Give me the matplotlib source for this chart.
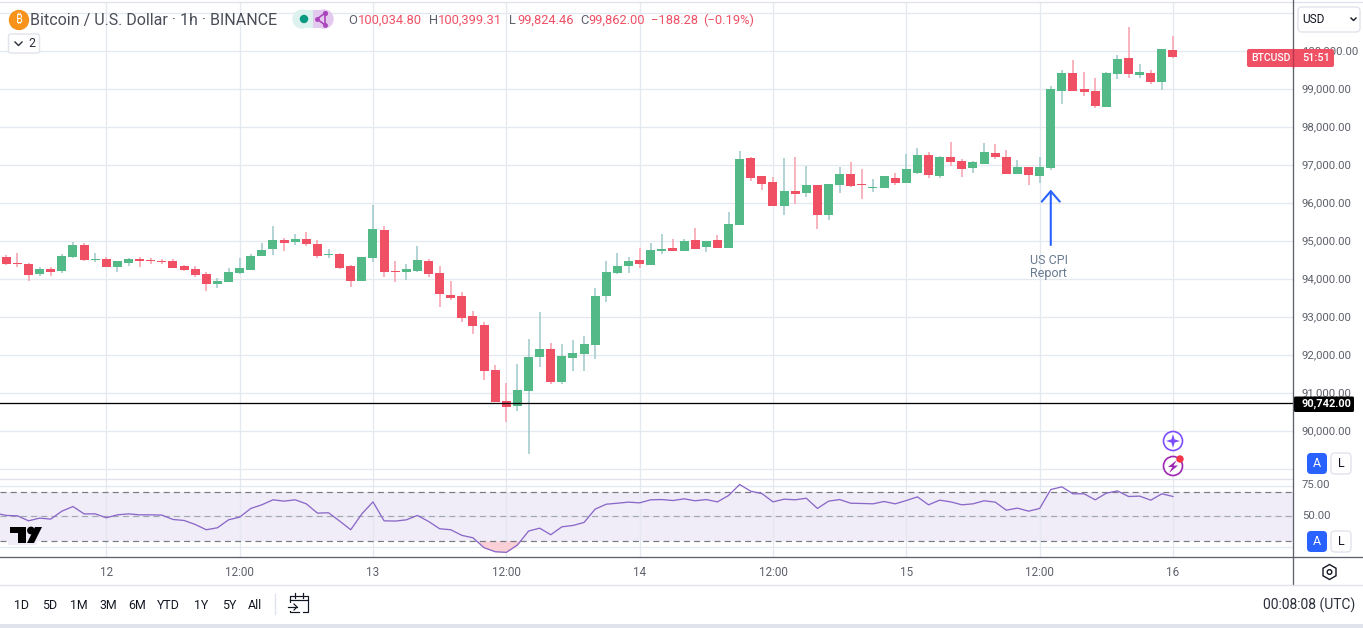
import matplotlib
matplotlib.use("Agg")
import matplotlib.pyplot as plt
import numpy as np
from matplotlib.patches import Circle, FancyBboxPatch, Polygon, Rectangle
from matplotlib.transforms import ScaledTranslation

plt.rcParams["font.family"] = ["Roboto", "Noto Sans", "DejaVu Sans"]

# hourly candles
opens = [94590, 94430, 94400, 94140, 94270, 94220, 94590, 94900, 94510, 94535,
         94320, 94430, 94535, 94510, 94480, 94480, 94350, 94270, 94140, 93880,
         93930, 94170, 94245, 94610, 94800, 95035, 94980, 95060, 94930, 94640,
         94670, 94350, 93960, 94560, 95300, 94220, 94190, 94220, 94480, 94170,
         93590, 93560, 93035, 92800, 91610, 90800, 90665, 91060, 91955, 92165,
         91300, 91930, 92035, 92270, 93560, 94170, 94350, 94510, 94380, 94745,
         94825, 94745, 95035, 94850, 95035, 94825, 95430, 97193, 96720, 96562,
         95930, 96325, 96272, 96483, 95693, 96483, 96772, 96509, 96404, 96404,
         96667, 96535, 96798, 97272, 96719, 97220, 97114, 96930, 97035, 97325,
         97220, 96772, 96956, 96719, 96930, 98956, 99430, 99009, 98956, 98535,
         99404, 99825, 99377, 99430, 99193, 100034.80]
highs = [94640, 94690, 94430, 94320, 94320, 94670, 94980, 94960, 94690, 94590,
         94480, 94560, 94590, 94560, 94535, 94535, 94380, 94350, 94190, 94035,
         94300, 94560, 94670, 94960, 95400, 95090, 95190, 95245, 95035, 94800,
         94690, 94380, 94590, 95950, 95400, 94480, 94400, 94880, 94535, 94350,
         93960, 93665, 93165, 92880, 91745, 91270, 91770, 92430, 93140, 92325,
         92300, 92400, 92510, 93770, 94480, 94690, 94590, 94825, 94955, 95190,
         95060, 95060, 95350, 95010, 95165, 95770, 97377, 97220, 96720, 96693,
         97193, 97220, 96983, 96483, 96509, 96956, 97088, 96904, 96640, 96719,
         96798, 97298, 97456, 97351, 97246, 97614, 97167, 97114, 97588, 97562,
         97404, 97140, 96956, 97220, 99088, 99509, 99772, 99456, 99298, 99456,
         99904, 100640, 99667, 99509, 100062, 100399.31]
lows = [94380, 94320, 93950, 94090, 94090, 94170, 94560, 94480, 94460, 94320,
        94190, 94350, 94320, 94400, 94400, 94300, 94220, 94060, 93690, 93770,
        93930, 94140, 94245, 94610, 94640, 94745, 94900, 94880, 94560, 94560,
        94270, 93800, 93960, 94460, 94060, 93930, 93980, 94190, 94060, 93270,
        93455, 92880, 92560, 91350, 90770, 90245, 90535, 89400, 91690, 91245,
        91245, 91590, 91590, 91900, 93400, 94140, 94170, 94300, 94380, 94665,
        94745, 94745, 94800, 94720, 94825, 94825, 95430, 96588, 96350, 95930,
        95693, 95983, 96167, 95325, 95562, 96272, 96430, 96114, 96298, 96404,
        96483, 96535, 96772, 96667, 96667, 96983, 96693, 96798, 97035, 97167,
        96772, 96772, 96483, 96535, 96877, 98614, 98956, 98825, 98509, 98535,
        99272, 99298, 99298, 99140, 98983, 99824.46]
closes = [94400, 94400, 94110, 94270, 94190, 94610, 94900, 94510, 94535, 94320,
          94480, 94535, 94480, 94480, 94455, 94300, 94245, 94110, 93880, 93960,
          94190, 94300, 94610, 94770, 95035, 94955, 95060, 94930, 94610, 94670,
          94300, 93960, 94590, 95325, 94190, 94190, 94270, 94510, 94140, 93610,
          93510, 92980, 92770, 91590, 90770, 90640, 91090, 91955, 92165, 91300,
          91980, 92060, 92300, 93560, 94190, 94350, 94480, 94400, 94770, 94800,
          94745, 95010, 94800, 95010, 94825, 95455, 97167, 96667, 96510, 95930,
          96325, 96246, 96483, 95693, 96509, 96772, 96456, 96483, 96430, 96719,
          96535, 96904, 97272, 96746, 97220, 97088, 96904, 97088, 97351, 97220,
          96772, 96956, 96746, 96956, 99009, 99430, 98956, 98930, 98562, 99430,
          99798, 99404, 99456, 99193, 100062, 99862.00]

# RSI has one more point, it starts one bar left of the first candle
rsi = [52.6, 50.7, 50.4, 46.3, 48.5, 47.7, 54.2, 58.0, 52.0, 52.0, 48.8, 51.2,
       52.0, 51.2, 51.2, 51.0, 47.4, 46.6, 43.3, 39.0, 40.6, 47.1, 49.3, 56.4,
       59.4, 63.5, 62.4, 63.5, 60.2, 52.6, 52.9, 46.1, 39.0, 52.0, 61.8, 46.3,
       46.1, 47.1, 50.7, 45.8, 39.8, 39.0, 34.4, 32.4, 24.3, 21.0, 20.5, 26.5,
       37.9, 40.3, 34.9, 41.4, 42.5, 45.0, 55.9, 59.9, 60.7, 61.6, 61.0, 63.5,
       63.7, 62.9, 64.3, 62.7, 63.7, 61.8, 67.0, 76.0, 70.5, 68.6, 61.8, 64.0,
       63.5, 64.8, 56.4, 62.4, 63.7, 60.7, 60.5, 60.2, 62.1, 60.2, 62.9, 65.9,
       59.4, 63.2, 61.8, 59.4, 60.2, 62.7, 61.6, 55.0, 56.7, 54.2, 56.4, 71.9,
       74.1, 68.4, 68.4, 63.5, 68.9, 70.8, 66.2, 66.5, 63.2, 68.4, 66.2]

price_ticks = [89000, 90000, 91000, 92000, 93000, 94000, 95000, 96000, 97000,
               98000, 99000, 100000, 101000]
price_labels = ["", "90,000.00", "91,000.00", "92,000.00", "93,000.00", "94,000.00",
                "95,000.00", "96,000.00", "97,000.00", "98,000.00", "99,000.00",
                "100,000.00", ""]
time_ticks = [9, 21, 33, 45, 57, 69, 81, 93, 105]
time_labels = ["12", "12:00", "13", "12:00", "14", "12:00", "15", "12:00", "16"]
range_labels = ["1D", "5D", "1M", "3M", "6M", "YTD", "1Y", "5Y", "All"]
range_x = [14, 42, 70, 99, 128, 157, 194, 222, 248]
support = 90742.00

GREEN, RED = "#53b987", "#ef5064"
WICK_G, WICK_R = "#a3cacb", "#f8a3b0"
GRID = "#e4e9ef"
TXT = "#5d606b"
W, H = 1363, 628
PX = 0.72  # one pixel in points at dpi 100

fig = plt.figure(figsize=(W / 100, H / 100), dpi=100, facecolor="white")


def box(left, top, right, bottom):
    return [left / W, 1 - bottom / H, (right - left) / W, (bottom - top) / H]


ax = fig.add_axes(box(0, 3, 1293, 479))
ax2 = fig.add_axes(box(0, 480, 1293, 557))
ui = fig.add_axes([0, 0, 1, 1], zorder=5)
ui.set_xlim(0, W)
ui.set_ylim(H, 0)
ui.axis("off")
ui.patch.set_alpha(0)

# price pane
idx = np.arange(len(opens))
o, h, l, c = map(np.array, (opens, highs, lows, closes))
up = c >= o
ax.vlines(idx[up], l[up], h[up], color=WICK_G, lw=1.6 * PX, zorder=3)
ax.vlines(idx[~up], l[~up], h[~up], color=WICK_R, lw=1.6 * PX, zorder=3)
ax.bar(idx[up], (c - o)[up], bottom=o[up], width=0.81, color=GREEN, lw=0, zorder=4)
ax.bar(idx[~up], (c - o)[~up], bottom=o[~up], width=0.81, color=RED, lw=0, zorder=4)
ax.axhline(support, color="black", lw=1.3 * PX, zorder=5)
ax.set_xlim(-0.567, 115.8)
ax.set_ylim(88745, 101271)
ax.set_yticks(price_ticks)
ax.set_yticklabels(price_labels)
ax.yaxis.tick_right()
ax.tick_params(axis="y", length=0, pad=6.3, labelsize=8.2, labelcolor=TXT)
ax.tick_params(axis="x", length=0, labelbottom=False)
ax.set_xticks(time_ticks)
ax.grid(True, color=GRID, lw=1.3 * PX, zorder=0)
for s in ax.spines.values():
    s.set_visible(False)

# arrow marking the CPI candle
ax.annotate("", xy=(94, 96360), xytext=(94, 94903),
            arrowprops=dict(arrowstyle="->,head_length=0.75,head_width=0.65", color="#2962ff",
                            lw=1.5, shrinkA=0, shrinkB=0), zorder=6)

# RSI pane
rsi_x = np.arange(len(rsi)) - 1
r = np.array(rsi)
ax2.axhspan(30, 70, color="#f0ecf8", lw=0, zorder=1)
ax2.fill_between(rsi_x, r, 30, where=r < 30, interpolate=True, color="#f9d0d6", lw=0, zorder=2)
ax2.plot(rsi_x, r, color="#8a68c8", lw=1.3 * PX, zorder=4)
ax2.axhline(70, color="#787b86", lw=1.2 * PX, dashes=(5, 3.5), zorder=3)
ax2.axhline(50, color="#a5a7b0", lw=1.2 * PX, dashes=(5, 3.5), zorder=3)
ax2.axhline(30, color="#787b86", lw=1.2 * PX, dashes=(5, 3.5), zorder=3)
ax2.set_xlim(-0.567, 115.8)
ax2.set_ylim(16.7, 79.7)
ax2.set_yticks([25, 50, 75])
ax2.set_yticklabels(["", "50.00", "75.00"])
ax2.yaxis.tick_right()
ax2.set_xticks(time_ticks)
ax2.set_xticklabels(time_labels)
ax2.tick_params(axis="y", length=0, pad=6.3, labelsize=8.2, labelcolor=TXT)
ax2.tick_params(axis="x", length=0, pad=6.5, labelsize=8.4, labelcolor=TXT)
ax2.grid(True, color=GRID, lw=1.3 * PX, zorder=0)
for s in ax2.spines.values():
    s.set_visible(False)

# tick labels sit a little above the grid lines
up_shift = ScaledTranslation(0, 1.5 / 100, fig.dpi_scale_trans)
for t in ax.get_yticklabels() + ax2.get_yticklabels():
    t.set_transform(t.get_transform() + up_shift)

# frame lines of the chart widget
ui.plot([0, W], [2, 2], color="#e0e3eb", lw=1.3 * PX)
ui.plot([0, 1293], [479, 479], color="#e0e3eb", lw=1.3 * PX)
ui.plot([0, W], [557, 557], color=TXT, lw=1.3 * PX)
ui.plot([1293, 1293], [0, 585], color=TXT, lw=1.3 * PX)
ui.plot([0, W], [585, 585], color="#e0e3eb", lw=1.3 * PX)
ui.add_patch(Rectangle((0, 624), W, 4, color="#e0e3eb", lw=0))


def rbox(x0, y0, x1, y1, fc, ec="none", rad=2, lw=1, z=6):
    ui.add_patch(FancyBboxPatch((x0, y0), x1 - x0, y1 - y0, boxstyle=f"round,pad=0,rounding_size={rad}",
                                fc=fc, ec=ec, lw=lw, zorder=z))


def label(x, y, s, size=8.6, color=TXT, ha="left", **kw):
    ui.text(x, y, s, fontsize=size, color=color, ha=ha, va="center", zorder=8, **kw)


# header
ui.add_patch(Circle((19, 20), 9.5, color="#f7931a", zorder=6))
label(19, 20, "₿", size=8.5, color="white", ha="center", family=["Noto Sans", "Open Sans", "Inter", "DejaVu Sans"],
      fontweight="bold")
label(30, 20, "Bitcoin / U.S. Dollar · 1h · BINANCE", size=11.5, color="#4a4d58")
ui.add_patch(Rectangle((302, 10), 11, 18, color="#ddf1ef", lw=0, zorder=6))
ui.add_patch(Circle((302, 19), 9, color="#ddf1ef", zorder=6))
ui.add_patch(Rectangle((313, 10), 11, 18, color="#e4c9ef", lw=0, zorder=6))
ui.add_patch(Circle((324, 19), 9, color="#e4c9ef", zorder=6))
ui.add_patch(Circle((304, 19), 3.5, color="#089981", zorder=7))
ui.plot([325, 317, 325, 325], [13, 19, 25, 13], color="#ab47bc", lw=1.2, marker="o", ms=2.5, zorder=7)
for x, s, col in [(348, "O", TXT), (358, "100,034.80", RED), (429, "H", TXT), (438, "100,399.31", RED),
                  (509, "L", TXT), (517, "99,824.46", RED), (580, "C", TXT), (588, "99,862.00", RED),
                  (651, "−188.28", RED), (703, "(−0.19%)", RED)]:
    label(x, 20, s, size=9.3, color=col)
rbox(8.5, 34, 39.5, 53, "white", "#e0e3eb")
ui.plot([15, 18.5, 22], [42, 45.5, 42], color="#2a2e39", lw=1, zorder=8)
label(28, 43.5, "2", size=8.9, color="#2a2e39")

# note under the arrow
label(1030, 260.5, "US CPI", size=9, color="#6a7b90")
label(1030, 273.5, "Report", size=9, color="#6a7b90")

# price axis widgets
rbox(1298, 7, 1360, 32, "white", "#e0e3eb", rad=4)
label(1302, 19.5, "USD", size=8.6, color="#131722")
ui.plot([1351, 1353.5, 1356], [18, 20.5, 18], color="#131722", lw=1, zorder=8)
rbox(1247, 49, 1334, 67, RED, rad=2)
ui.plot([1293, 1293], [49, 67], color="#b8394b", lw=1, zorder=7)
label(1251, 58, "BTCUSD", size=7.6, color="white", fontweight="medium")
label(1302, 58, "51:51", size=7.8, color="white", fontweight="medium")
rbox(1294, 396.5, 1354, 412, "black", rad=1.5)
label(1351, 404, "90,742.00", size=7.9, color="white", ha="right", fontweight="bold")

# auto / log buttons
for top in [453, 531]:
    rbox(1307, top, 1327, top + 21, "#2962ff", rad=4)
    label(1317, top + 10.5, "A", size=9, color="white", ha="center")
    rbox(1331, top, 1351, top + 21, "white", "#e0e3eb", rad=4)
    label(1341, top + 10.5, "L", size=9, color="#131722", ha="center")

# assistant icons
ui.add_patch(Circle((1173, 441), 9.5, fc="white", ec="#7c4dff", lw=1.2, zorder=6))
ui.add_patch(Polygon([(1173, 434), (1174.6, 439.4), (1180, 441), (1174.6, 442.6), (1173, 448), (1171.4, 442.6),
                      (1166, 441), (1171.4, 439.4)], color="#7c4dff", lw=0, zorder=7))
ui.add_patch(Circle((1173, 466), 9.5, fc="white", ec="#9c27b0", lw=1.2, zorder=6))
ui.add_patch(Polygon([(1177, 460), (1168, 467), (1172.5, 467), (1169, 473), (1178, 465.5), (1173.5, 465.5)],
                     color="#9c27b0", lw=0, zorder=7))
ui.add_patch(Circle((1180, 459), 3, color="#f23645", zorder=8))

# watermark logo
ui.add_patch(Polygon([(8, 525), (44, 525), (36, 545), (8, 545)], color="#f0ecf8", lw=0, zorder=5))
ui.add_patch(Polygon([(10, 527), (26, 527), (26, 543), (18, 543), (18, 533), (10, 533)], color="black", lw=0, zorder=6))
ui.add_patch(Circle((31, 530.5), 3.2, color="black", zorder=6))
ui.add_patch(Polygon([(35, 527), (42, 527), (34, 543), (27, 543)], color="black", lw=0, zorder=6))

# settings icon on the time axis
ang = np.radians(np.arange(30, 390, 60))
ui.add_patch(Polygon(np.c_[1329.5 + 7.5 * np.cos(ang), 572 + 7.5 * np.sin(ang)], fc="none", ec="#131722", lw=1, zorder=6))
ui.add_patch(Circle((1329.5, 572), 2.3, fc="none", ec="#131722", lw=1, zorder=6))

# bottom toolbar
for x, s in zip(range_x, range_labels):
    label(x, 605.5, s, size=8.9, color="#131722")
ui.plot([275, 275], [594, 614], color="#e0e3eb", lw=1)
ui.plot([299, 290, 290, 308, 308, 303], [612, 612, 596, 596, 612, 612], color="#131722", lw=PX * 1.2, zorder=6)
ui.plot([290, 308], [600, 600], color="#131722", lw=PX * 1.2, zorder=6)
ui.plot([295, 295], [593, 598], color="#131722", lw=PX * 1.2, zorder=6)
ui.plot([303, 303], [593, 598], color="#131722", lw=PX * 1.2, zorder=6)
ui.add_patch(Rectangle((288, 603), 5, 8, color="white", lw=0, zorder=6))
ui.plot([288, 297], [607, 607], color="#131722", lw=PX * 1.2, zorder=7)
ui.plot([294, 297, 294], [604, 607, 610], color="#131722", lw=PX * 1.2, zorder=7)
label(1355, 605.5, "00:08:08 (UTC)", size=10, color="#2a2e39", ha="right")

fig.savefig("out.png", dpi=100)
